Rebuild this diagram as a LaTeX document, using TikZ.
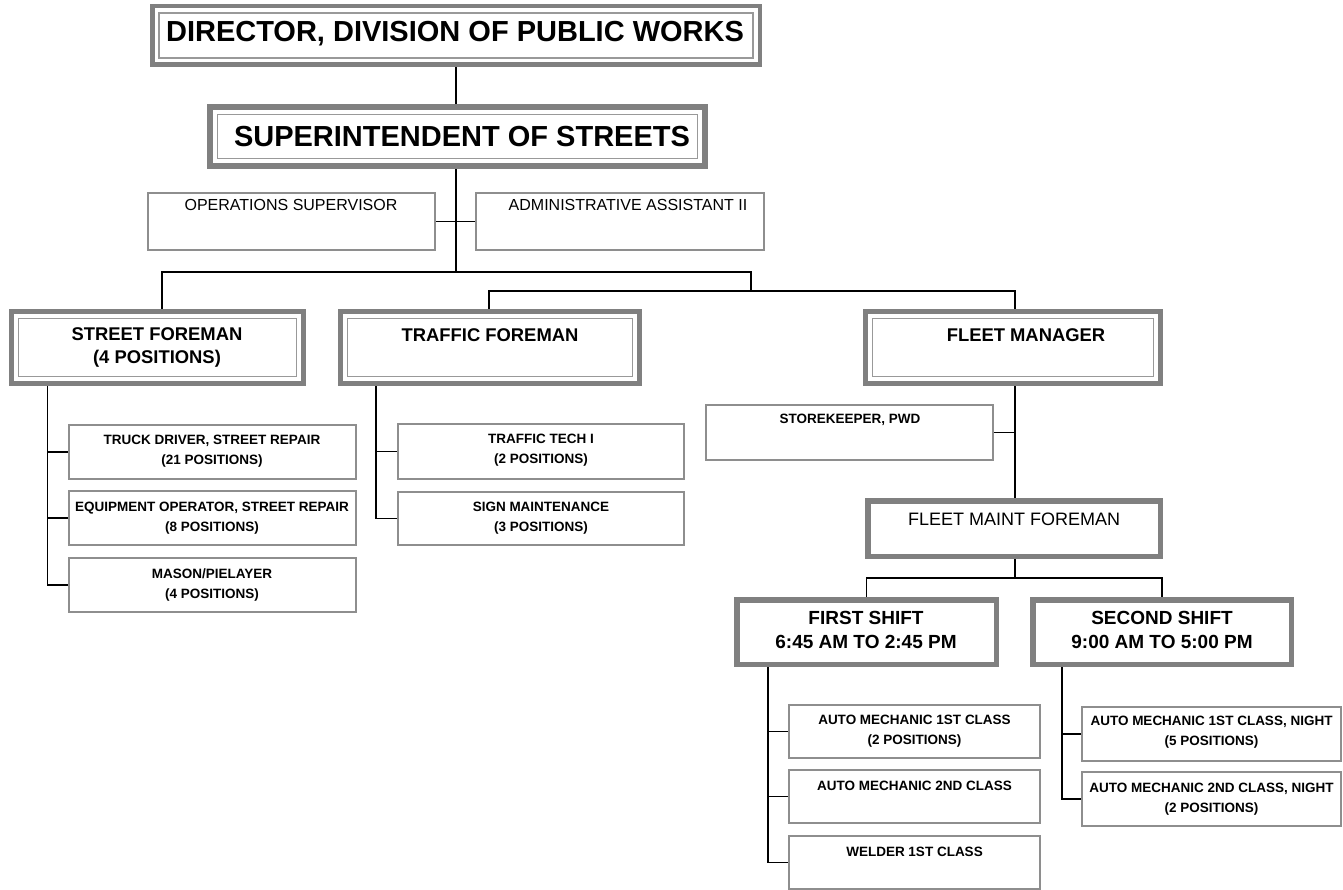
\documentclass[tikz,border=0pt]{standalone}
\usepackage{fontspec}
\setmainfont{Liberation Sans}
\usetikzlibrary{fit,calc,backgrounds}

\definecolor{bandgray}{HTML}{808080}
\definecolor{rulegray}{HTML}{999999}
\definecolor{edgegray}{HTML}{8E8E8E}

\tikzset{
  heavyframe/.style={draw=bandgray, fill=white, inner sep=0pt, outer sep=0pt},
  innerrule/.style={draw=rulegray, line width=1.3pt},
  thinbox/.style={draw=edgegray, line width=1.3pt, fill=white, inner sep=0pt, outer sep=0pt},
  wire/.style={black, line width=1.8pt},
  toptitle/.style={font=\fontsize{29}{32}\selectfont\bfseries, inner sep=0pt},
  midtitle/.style={font=\fontsize{18.4}{23}\selectfont\bfseries, align=center, inner sep=0pt},
  shifttitle/.style={font=\fontsize{19}{24}\selectfont\bfseries, align=center, inner sep=0pt},
  plainlabel/.style={font=\fontsize{16}{20}\selectfont, inner sep=0pt},
  smalllabel/.style={font=\fontsize{13.5}{20}\selectfont\bfseries, align=center, inner sep=0pt},
}

% double frame: heavy outer band plus a thin inner rule
% #1 band width, #2 name, #3..#6 outer edges x1,y1,x2,y2
\newcommand\dframe[6][4.5]{%
  \node[heavyframe, line width=#1pt, fit={(#3+#1/2,#4+#1/2) (#5-#1/2,#6-#1/2)}] (#2) {};
  \draw[innerrule] ($(#2.north west)+(#1/2+4.5,#1/2+4.5)$) rectangle ($(#2.south east)-(#1/2+4.5,#1/2+4.5)$);
}
% single heavy frame
\newcommand\sframe[5]{%
  \node[heavyframe, line width=5.5pt, fit={(#2+2.75,#3+2.75) (#4-2.75,#5-2.75)}] (#1) {};
}
% thin box
\newcommand\tbox[5]{%
  \node[thinbox, fit={(#2,#3) (#4,#5)}] (#1) {};
}

\begin{document}
\begin{tikzpicture}[x=1pt, y=-1pt]
\useasboundingbox (0,0) rectangle (1343,890);

% ---- top of the chart
\dframe{dir}{150}{4}{762}{67}
\node[toptitle] (dirT) at (455,34) {DIRECTOR, DIVISION OF PUBLIC WORKS};
\dframe[6]{sup}{207}{104}{708}{169}
\node[toptitle] (supT) at (462,137) {SUPERINTENDENT OF STREETS};

\tbox{ops}{148}{193}{435}{250}
\node[plainlabel] (opsT) at (291,205) {OPERATIONS SUPERVISOR};
\tbox{adm}{476}{193}{764}{250}
\node[plainlabel] (admT) at (628,205) {ADMINISTRATIVE ASSISTANT II};

% ---- foremen
\dframe[5]{sf}{9}{309}{306}{386}
\node[midtitle] (sfT) at (157,347) {STREET FOREMAN\\(4 POSITIONS)};
\dframe[5]{tf}{338}{309}{642}{386}
\node[midtitle] (tfT) at (490,335) {TRAFFIC FOREMAN};
\dframe[5]{fm}{863}{309}{1163}{386}
\node[midtitle] (fmT) at (1026,335) {FLEET MANAGER};

% ---- street crew
\tbox{truck}{69}{425}{356}{479}
\node[smalllabel] (truckT) at (212,451) {TRUCK DRIVER, STREET REPAIR\\(21 POSITIONS)};
\tbox{equip}{69}{491}{356}{545}
\node[smalllabel] (equipT) at (212,518) {EQUIPMENT OPERATOR, STREET REPAIR\\(8 POSITIONS)};
\tbox{mason}{69}{558}{356}{612}
\node[smalllabel] (masonT) at (212,585) {MASON/PIELAYER\\(4 POSITIONS)};

% ---- traffic crew
\tbox{tech}{398}{424}{684}{479}
\node[smalllabel] (techT) at (541,450) {TRAFFIC TECH I\\(2 POSITIONS)};
\tbox{sign}{398}{492}{684}{545}
\node[smalllabel] (signT) at (541,518) {SIGN MAINTENANCE\\(3 POSITIONS)};

% ---- fleet
\tbox{store}{706}{405}{993}{460}
\node[smalllabel] (storeT) at (850,420) {STOREKEEPER, PWD};
\sframe{fmf}{865}{498}{1163}{559}
\node[plainlabel, font=\fontsize{18}{22}\selectfont] (fmfT) at (1014,519) {FLEET MAINT FOREMAN};

\sframe{fs}{734}{597}{999}{667}
\node[shifttitle] (fsT) at (866,630) {FIRST SHIFT\\6:45 AM TO 2:45 PM};
\sframe{ss}{1030}{597}{1294}{667}
\node[shifttitle] (ssT) at (1162,630) {SECOND SHIFT\\9:00 AM TO 5:00 PM};

\tbox{am1}{789}{705}{1040}{758}
\node[smalllabel] (am1T) at (914.5,731) {AUTO MECHANIC 1ST CLASS\\(2 POSITIONS)};
\tbox{am2}{789}{770}{1040}{823}
\node[smalllabel] (am2T) at (914.5,786) {AUTO MECHANIC 2ND CLASS};
\tbox{weld}{789}{836}{1040}{889}
\node[smalllabel] (weldT) at (914.5,852) {WELDER 1ST CLASS};

\tbox{amn1}{1082}{707}{1341}{761}
\node[smalllabel] (amn1T) at (1211.5,732) {AUTO MECHANIC 1ST CLASS, NIGHT\\(5 POSITIONS)};
\tbox{amn2}{1082}{772}{1341}{826}
\node[smalllabel] (amn2T) at (1211.5,799) {AUTO MECHANIC 2ND CLASS, NIGHT\\(2 POSITIONS)};

% ---- connectors, kept behind the boxes
\begin{pgfonlayer}{background}
  \coordinate (busA) at (456,272);
  \coordinate (busB) at (751,272);
  \coordinate (busC) at (751,291);
  \coordinate (busD) at (1015,578);
  \coordinate (sfx) at (47.5,0);
  \coordinate (tfx) at (376,0);
  \coordinate (fsx) at (768,0);
  \coordinate (ssx) at (1062,0);

  \draw[wire] (dir.south -| busA) -- (sup.north -| busA);
  \draw[wire] (sup.south -| busA) -- (busA);
  \draw[wire] (ops.east) -- (adm.west);
  \draw[wire] ([xshift=4.5pt]sf.north) |- (busB) -- (busC);
  \draw[wire] (tf.north -| 489,0) |- (busC) -| (fm.north -| 1015,0);
  \draw[wire] (fm.south -| 1015,0) -- (fmf.north -| 1015,0);
  \draw[wire] (store.east) -- (store.east -| 1015,0);
  \draw[wire] (fmf.south -| busD) -- (busD);
  \draw[wire] (fs.north) |- (busD) -| (ss.north);

  \draw[wire] (sf.south -| sfx) |- (mason.west);
  \draw[wire] (truck.west -| sfx) -- (truck.west);
  \draw[wire] (equip.west -| sfx) -- (equip.west);

  \draw[wire] (tf.south -| tfx) |- (sign.west);
  \draw[wire] (tech.west -| tfx) -- (tech.west);

  \draw[wire] (fs.south -| fsx) |- (weld.west);
  \draw[wire] (am1.west -| fsx) -- (am1.west);
  \draw[wire] (am2.west -| fsx) -- (am2.west);

  \draw[wire] (ss.south -| ssx) |- (amn2.west);
  \draw[wire] (amn1.west -| ssx) -- (amn1.west);
\end{pgfonlayer}
\end{tikzpicture}
\end{document}
